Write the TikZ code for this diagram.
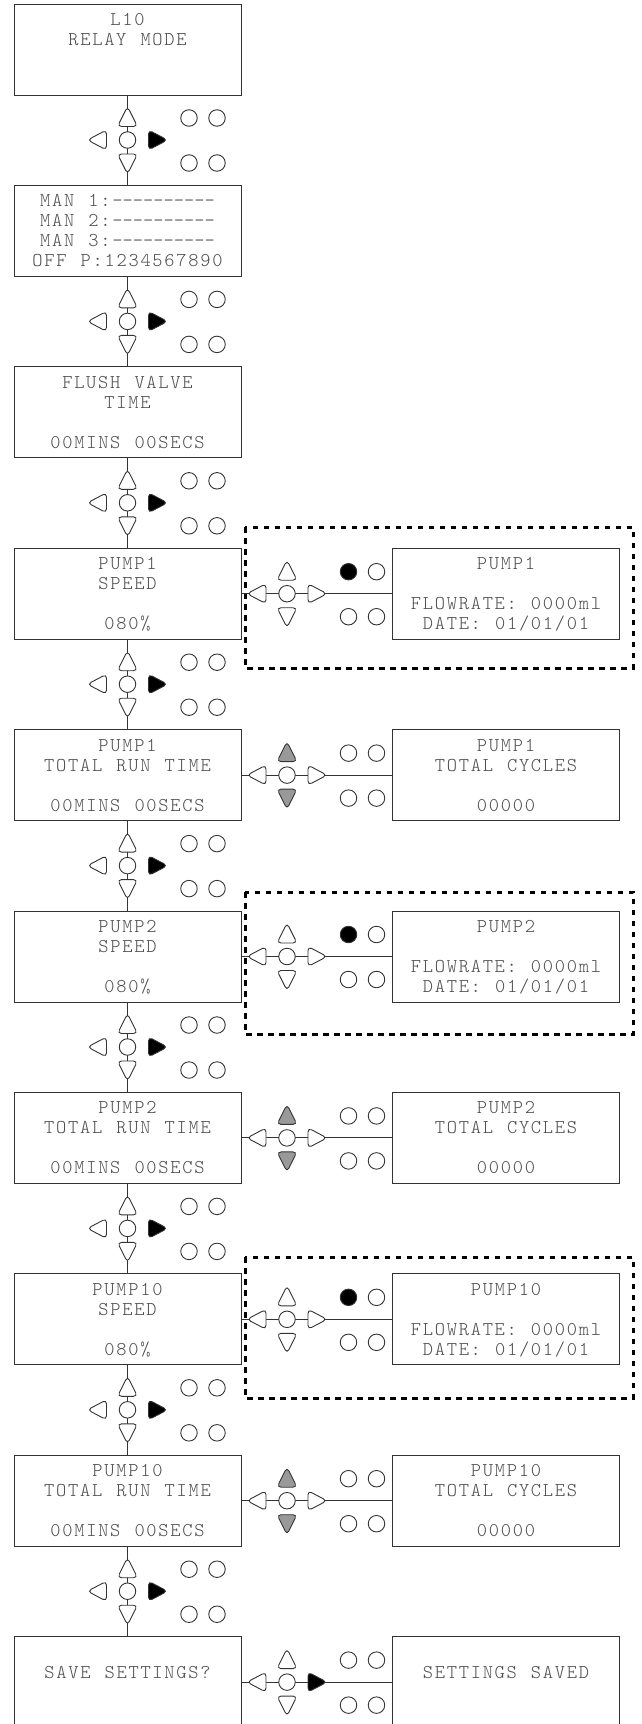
\documentclass[tikz,border=0pt]{standalone}
\usepackage{fontspec}
\setmonofont{Latin Modern Mono Light}[LetterSpace=9,WordSpace=1.17]
\definecolor{ln}{gray}{0.2}
\definecolor{tx}{gray}{0.3}
\definecolor{kgray}{gray}{0.6}
\newcommand\st{\vrule width0pt height15pt depth3pt}
\newcommand\four[4]{\st#1\\\st#2\\\st#3\\\st#4}
\newcommand\dsh{-\kern0pt}
\newcommand\dten{\dsh\dsh\dsh\dsh\dsh\dsh\dsh\dsh\dsh\dsh}
\tikzset{
 lcd/.style={draw=ln, line width=1pt, minimum width=227pt, minimum height=91pt, inner sep=0pt,
   align=center, text=tx, font=\ttfamily\fontsize{19.5}{20}\selectfont},
 rlcd/.style={lcd, minimum width=226.5pt},
 conn/.style={draw=ln, line width=1pt},
 tri/.style={draw=ln, line width=0.9pt, rounded corners=4pt, fill=white},
 btn/.style={circle, draw=ln, line width=0.9pt, fill=white, minimum size=16.5pt, inner sep=0pt},
 dotbox/.style={draw=black, line width=3pt, dash pattern=on 5.5pt off 5.5pt},
}
% #1 name, #2 x, #3 y, #4 up fill, #5 down fill, #6 left fill, #7 right fill, #8 top-left dot fill
\newcommand\kpad[8]{%
 \begin{scope}[shift={(#2,#3)}]
  \draw[tri, fill=#4] (0,-33.5) -- (10,-13.5) -- (-10,-13.5) -- cycle;
  \draw[tri, fill=#5] (0,34) -- (-10,14) -- (10,14) -- cycle;
  \draw[tri, fill=#6] (-40,0) -- (-21,-10) -- (-21,10) -- cycle;
  \draw[tri, fill=#7] (40,0) -- (21,10) -- (21,-10) -- cycle;
  \node[btn] (#1c) at (0,0) {};
  \node[btn, fill=#8] (#1a) at (61.5,-22) {};
  \node[btn] (#1b) at (89.5,-22) {};
  \node[btn] (#1d) at (61.5,23) {};
  \node[btn] (#1e) at (89.5,23) {};
 \end{scope}}
\begin{document}
\begin{tikzpicture}[x=1pt,y=-1pt]
\useasboundingbox (0,0) rectangle (641,1724);
\fill[white] (0,0) rectangle (641,1724);

% dotted groups
\draw[dotbox] (245,527) rectangle (633,668);
\draw[dotbox] (245,892) rectangle (633,1034);
\draw[dotbox] (245,1257) rectangle (633,1398);

% left column
\node[lcd] (L0) at (127.5,49.5) {\four{L10}{RELAY MODE}{}{}};
\node[lcd] (L1) at (127.5,230.9) {\four{MAN 1:\dten}{MAN 2:\dten}{MAN 3:\dten}{OFF P:1234567890}};
\node[lcd] (L2) at (127.5,412.3) {\four{FLUSH VALVE}{TIME}{}{00MINS 00SECS}};
\node[lcd] (L3) at (127.5,593.7) {\four{PUMP1}{SPEED}{}{080\%}};
\node[lcd] (L4) at (127.5,775.1) {\four{PUMP1}{TOTAL RUN TIME}{}{00MINS 00SECS}};
\node[lcd] (L5) at (127.5,956.5) {\four{PUMP2}{SPEED}{}{080\%}};
\node[lcd] (L6) at (127.5,1137.9) {\four{PUMP2}{TOTAL RUN TIME}{}{00MINS 00SECS}};
\node[lcd] (L7) at (127.5,1319.3) {\four{PUMP10}{SPEED}{}{080\%}};
\node[lcd] (L8) at (127.5,1500.7) {\four{PUMP10}{TOTAL RUN TIME}{}{00MINS 00SECS}};
\node[lcd] (L9) at (127.5,1682.1) {\four{}{SAVE SETTINGS?}{}{}};

% right column
\node[rlcd] (R3) at (506,593.7) {\four{PUMP1}{}{FLOWRATE: 0000ml}{DATE: 01/01/01}};
\node[rlcd] (R4) at (506,775.1) {\four{PUMP1}{TOTAL CYCLES}{}{00000}};
\node[rlcd] (R5) at (506,956.5) {\four{PUMP2}{}{FLOWRATE: 0000ml}{DATE: 01/01/01}};
\node[rlcd] (R6) at (506,1137.9) {\four{PUMP2}{TOTAL CYCLES}{}{00000}};
\node[rlcd] (R7) at (506,1319.3) {\four{PUMP10}{}{FLOWRATE: 0000ml}{DATE: 01/01/01}};
\node[rlcd] (R8) at (506,1500.7) {\four{PUMP10}{TOTAL CYCLES}{}{00000}};
\node[rlcd] (R9) at (506,1682.1) {\four{}{SETTINGS SAVED}{}{}};

% connectors
\draw[conn] (L0) -- (L1);
\draw[conn] (L1) -- (L2);
\draw[conn] (L2) -- (L3);
\draw[conn] (L3) -- (L4);
\draw[conn] (L4) -- (L5);
\draw[conn] (L5) -- (L6);
\draw[conn] (L6) -- (L7);
\draw[conn] (L7) -- (L8);
\draw[conn] (L8) -- (L9);
\draw[conn] (L3) -- (R3);
\draw[conn] (L4) -- (R4);
\draw[conn] (L5) -- (R5);
\draw[conn] (L6) -- (R6);
\draw[conn] (L7) -- (R7);
\draw[conn] (L8) -- (R8);
\draw[conn] (L9) -- (R9);

% vertical keypads
\kpad{v0}{127.5}{140}{white}{white}{white}{black}{white}
\kpad{v1}{127.5}{321.4}{white}{white}{white}{black}{white}
\kpad{v2}{127.5}{502.8}{white}{white}{white}{black}{white}
\kpad{v3}{127.5}{684.2}{white}{white}{white}{black}{white}
\kpad{v4}{127.5}{865.6}{white}{white}{white}{black}{white}
\kpad{v5}{127.5}{1047}{white}{white}{white}{black}{white}
\kpad{v6}{127.5}{1228.4}{white}{white}{white}{black}{white}
\kpad{v7}{127.5}{1409.8}{white}{white}{white}{black}{white}
\kpad{v8}{127.5}{1591.2}{white}{white}{white}{black}{white}

% horizontal keypads
\kpad{h3}{287}{593.7}{white}{white}{white}{white}{black}
\kpad{h4}{287}{775.1}{kgray}{kgray}{white}{white}{white}
\kpad{h5}{287}{956.5}{white}{white}{white}{white}{black}
\kpad{h6}{287}{1137.9}{kgray}{kgray}{white}{white}{white}
\kpad{h7}{287}{1319.3}{white}{white}{white}{white}{black}
\kpad{h8}{287}{1500.7}{kgray}{kgray}{white}{white}{white}
\kpad{h9}{287}{1682.1}{white}{white}{white}{black}{white}
\end{tikzpicture}
\end{document}
